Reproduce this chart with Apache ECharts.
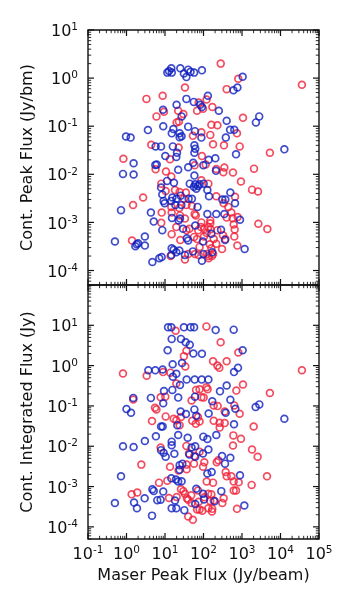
<!DOCTYPE html>
<html>
<head>
<meta charset="utf-8">
<script src="https://cdn.jsdelivr.net/npm/echarts@6/dist/echarts.min.js"></script>
<style>
html,body{margin:0;padding:0;background:#fff;}
#chart{width:354px;height:600px;}
</style>
</head>
<body>
<div id="chart"></div>
<script>
// ---- data: [maser peak flux (Jy/beam), continuum flux] ----
const topRed = [[280,2.0],[800,0.97],[33,0.64],[400,0.59],[36000,0.73],[3.3,0.37],[8.7,0.43],[120,0.36],[75,0.31],[97,0.23],[170,0.25],[22,0.21],[6.0,0.16],[30,0.18],[9.4,0.2],[68,0.21],[1060,0.15],[20,0.12],[23,0.125],[160,0.107],[230,0.105],[88,0.075],[53,0.063],[150,0.066],[740,0.071],
[4.4,0.041],[22.6,0.036],[177,0.042],[340,0.040],[870,0.038],[5300,0.028],[0.83,0.021],[5.7,0.0127],[13.5,0.0206],[10.6,0.0114],[91,0.024],[59,0.0154],[114,0.016],[215,0.0129],[348,0.0138],[327,0.011],[583,0.0109],[2050,0.0131],[14.6,0.009],[8.0,0.0064],[24,0.0043],[88,0.0075],[134,0.0064],[940,0.0071],[1820,0.0048],[2610,0.0044],[2.7,0.0033],[10.4,0.0045],[18.2,0.0047],[35,0.0042],[31,0.0031],[215,0.0035],[658,0.0034],[1.48,0.0023],[8.2,0.0016],[8.0,0.00098],[14.6,0.0021],[23.6,0.002],[36,0.0023],[50,0.0022],[59,0.0015],[400,0.00126],[528,0.0016],[442,0.0021],[334,0.0025],[14.9,0.0016],[24.5,0.0014],[33,0.0012],[63,0.0014],[88,0.001],[150,0.00096],[150,0.0011],[572,0.00122],[771,0.0013],[2660,0.00094],[4550,0.00073],[14.9,0.00057],[19.7,0.0008],[36,0.00069],[43,0.00074],[73,0.00069],[86,0.0008],[105,0.00073],[121,0.0006],[134,0.0008],[153,0.00072],[229,0.00069],[321,0.00054],[608,0.0009],[646,0.00071],[632,0.00051],[369,0.00045],[25,0.00043],[57,0.0005],[68,0.00045],[145,0.00035],[184,0.00045],[303,0.00028],[757,0.00033],[1.39,0.00042],[14,0.0002],[33,0.00017],[40,0.00022],[60,0.00022],[75,0.00021],[123,0.00022],[134,0.0002],[136,0.00018],[166,0.0002],[177,0.00022],[79,0.00031],[160,0.00029],[215,0.00036],[103,0.00051]];

const topBlue = [[11.5,1.3],[12.7,1.4],[14.6,1.6],[15,1.3],[25,1.6],[31,1.25],[36,1.05],[40,1.5],[46,1.35],[57,1.3],[91,1.45],[1040,1.07],[600,0.56],[760,0.64],[20,0.28],[36,0.37],[56,0.32],[83,0.28],[91,0.25],[130,0.43],[250,0.21],[8.9,0.22],[27,0.16],[400,0.13],[2800,0.16],[2300,0.12],[9.0,0.1],[16.5,0.087],[40,0.098],[3.6,0.083],[0.97,0.061],[1.28,0.058],[15,0.071],[24,0.071],[27,0.062],[60,0.079],[88,0.058],[24,0.059],[490,0.084],[630,0.084],[380,0.058],
[5.7,0.038],[7.9,0.038],[16,0.038],[20.5,0.028],[58,0.040],[61,0.034],[58,0.028],[700,0.026],[12600,0.033],[1.53,0.017],[5.6,0.0157],[6.1,0.0159],[10.2,0.024],[19.7,0.023],[22,0.0124],[40,0.014],[136,0.020],[203,0.0216],[54,0.0173],[99,0.0154],[211,0.0118],[0.81,0.0102],[1.53,0.0099],[58,0.0094],[11.3,0.0073],[17.1,0.0067],[44,0.0064],[61,0.0062],[72,0.0057],[56,0.0055],[65,0.005],[79,0.0062],[101,0.0064],[126,0.0047],[139,0.0035],[7.9,0.0053],[8.5,0.0038],[15.5,0.0033],[14.6,0.0028],[19.7,0.0031],[41,0.0031],[50,0.0031],[25.5,0.0036],[308,0.003],[369,0.003],[498,0.0042],[658,0.0025],[0.72,0.0018],[4.3,0.0016],[5.1,0.00104],[9.8,0.0025],[26.6,0.0023],[18.6,0.0023],[70,0.0021],[126,0.0015],[215,0.0015],[348,0.0015],[15.2,0.00124],[22.6,0.0011],[24.5,0.0012],[887,0.00114],[8.5,0.00069],[29.4,0.00074],[61,0.00086],[160,0.00058],[285,0.0007],[37,0.00047],[40,0.00042],[97,0.0004],[362,0.00043],[1170,0.00028],[0.5,0.0004],[1.84,0.00035],[1.7,0.00032],[2.0,0.00037],[3.0,0.00051],[3.0,0.00033],[14.9,0.00029],[16.8,0.00027],[19.7,0.00024],[14.6,0.00021],[23.6,0.00026],[33,0.00021],[53,0.00025],[99,0.00022],[91,0.00016],[169,0.00024],[4.7,0.00015],[7.1,0.00018],[8.2,0.00019],[9.2,0.0028]];

const bottomRed = [[119,9.4],[18.9,7.3],[279,3.8],[803,2.12],[36,2.33],[31,1.72],[177,1.28],[229,1.0],[258,0.88],[400,1.28],[0.81,0.64],[3.34,0.56],[33.7,0.95],[13.8,0.67],[8.9,0.69],[36000,0.77],[19.7,0.36],[64,0.25],[119,0.29],[128,0.26],[101,0.161],[88,0.164],[7.7,0.164],[10.2,0.17],[713,0.24],[1060,0.34],[5300,0.21],[1.5,0.144],[5.5,0.09],[6.0,0.082],[49,0.136],[79,0.26],[184,0.103],[233,0.099],[355,0.073],[632,0.103],[870,0.064],[4.6,0.042],[10.4,0.055],[16.8,0.048],[19.7,0.044],[26,0.053],[51,0.043],[72,0.053],[79,0.041],[184,0.043],[263,0.038],[2010,0.031],
[24,0.033],[63,0.036],[263,0.029],[355,0.0375],[596,0.0186],[940,0.0154],[7.7,0.0093],[36,0.0102],[42,0.0066],[58,0.0057],[79,0.0073],[105,0.004],[220,0.004],[243,0.0045],[583,0.0104],[1820,0.0083],[2550,0.0055],[2.43,0.0035],[13.5,0.0031],[22.6,0.0025],[36.5,0.0035],[56.7,0.0037],[36.5,0.0027],[7.0,0.00125],[11.5,0.0014],[26,0.00086],[30,0.00077],[97,0.0031],[121,0.00133],[177,0.00125],[377,0.0023],[400,0.0018],[528,0.0018],[608,0.00133],[700,0.0008],[608,0.0008],[819,0.00128],[1780,0.0011],[4460,0.0018],[1.36,0.00064],[1.91,0.00071],[12.7,0.00052],[20.1,0.00055],[33,0.00066],[37,0.00051],[40,0.00047],[48,0.00061],[75,0.00042],[105,0.00054],[150,0.00044],[184,0.00045],[334,0.00051],[68,0.00027],[79,0.00027],[93,0.00025],[134,0.00029],[166,0.00024],[169,0.00028],[40,0.00018],[53,0.00015],[741,0.00028],[308,0.00039],[49,0.00039],[132,0.00066],[72,0.0008],[160,0.00064]];

const bottomBlue = [[12,8.9],[14.6,8.9],[31,8.9],[46,8.9],[57,8.9],[207,7.6],[608,7.8],[14.9,4.6],[26,4.6],[34.4,3.8],[44,3.3],[11.7,2.4],[54.5,2.0],[91,1.97],[1040,2.4],[27.7,1.16],[15.8,1.08],[19.7,0.63],[3.7,0.77],[5.6,0.77],[8.7,0.80],[16,0.53],[24.5,0.33],[36.5,0.45],[59,0.45],[90,0.45],[134,0.45],[400,0.32],[787,0.88],[620,0.69],[15.5,0.25],[9.4,0.235],[268,0.23],[1.5,0.158],[4.3,0.158],[9.0,0.117],[22,0.161],[60,0.17],[169,0.131],[1.0,0.084],[1.31,0.068],[25.5,0.073],[35,0.063],[58,0.082],[65,0.057],[136,0.065],[377,0.068],[498,0.142],[672,0.085],[2260,0.094],[2820,0.109],[12600,0.048],[7.9,0.031],[20.9,0.033],[620,0.035],[8.7,0.031],
[5.8,0.0176],[22,0.019],[38.8,0.0163],[99,0.0173],[126,0.0151],[215,0.019],[3.0,0.0135],[0.81,0.01],[1.53,0.0096],[7.9,0.008],[9.2,0.0069],[14.9,0.013],[14.9,0.0106],[10.4,0.0055],[17.5,0.0065],[61,0.01],[49,0.0093],[43,0.0062],[61,0.0055],[97,0.0066],[134,0.0083],[303,0.0057],[362,0.0037],[498,0.0052],[28.2,0.0037],[24,0.0026],[24,0.0034],[0.72,0.0018],[14.6,0.0016],[19.3,0.0015],[22,0.00133],[27,0.00135],[126,0.0021],[163,0.0023],[65,0.00088],[97,0.00066],[290,0.00077],[887,0.0019],[4.7,0.00086],[5.1,0.00078],[9.0,0.00075],[1.57,0.0004],[1.87,0.00029],[0.5,0.00039],[2.96,0.00051],[6.3,0.00046],[7.7,0.00047],[18.2,0.00045],[14.9,0.00029],[19.7,0.00029],[31.8,0.00026],[61,0.00037],[103,0.00048],[195,0.00043],[4.6,0.00019],[1150,0.00034]];

// ---- axes ----
const xRange = [0.1, 1e5];
const topYRange = [5e-5, 10];
const bottomYRange = [5e-5, 100];
const xTitle = 'Maser Peak Flux (Jy/beam)';
const topYTitle = 'Cont. Peak Flux (Jy/bm)';
const bottomYTitle = 'Cont. Integrated Flux (Jy)';
const decades = [-5, -4, -3, -2, -1, 0, 1, 2, 3, 4, 5];
const minorMultipliers = [2, 3, 4, 5, 6, 7, 8, 9];

const RED = '#f0213a';
const BLUE = '#0f1fbf';
const INK = '#111';
const FONT = 'DejaVu Sans';

function tickList(range) {
  const out = [];
  decades.forEach(function (e) {
    const p = Math.pow(10, e);
    if (p >= range[0] * 0.999 && p <= range[1] * 1.001) out.push([p, 1]);
    minorMultipliers.forEach(function (m) {
      const v = m * p;
      if (v >= range[0] * 0.999 && v <= range[1] * 1.001) out.push([v, 0]);
    });
  });
  return out;
}
const xTicks = tickList(xRange);
const topYTicks = tickList(topYRange);
const bottomYTicks = tickList(bottomYRange);

function powLabel(maxShown) {
  return function (value) {
    const l = Math.log10(value);
    const e = Math.round(l);
    if (Math.abs(l - e) > 1e-6) return '';
    if (maxShown != null && value > maxShown) return '';
    return '{b|10}{s|' + e + '}';
  };
}
const richPow = {
  b: {fontSize: 16, lineHeight: 20, fontFamily: FONT, color: INK},
  s: {fontSize: 10.5, lineHeight: 10, verticalAlign: 'top', fontFamily: FONT, color: INK}
};

function tickSeries(gridIndex, ticks, isX) {
  return {
    type: 'custom',
    xAxisIndex: gridIndex,
    yAxisIndex: gridIndex,
    silent: true,
    clip: false,
    z: 5,
    data: ticks.map(function (t) { return isX ? [t[0], 1, t[1]] : [1, t[0], t[1]]; }),
    encode: {x: 0, y: 1},
    renderItem: function (params, api) {
      const cs = params.coordSys;
      const major = api.value(2) === 1;
      const len = major ? 6 : 3.2;
      const style = {stroke: INK, lineWidth: major ? 1.2 : 0.9};
      if (isX) {
        const x = api.coord([api.value(0), 1])[0];
        return {type: 'group', children: [
          {type: 'line', shape: {x1: x, y1: cs.y + cs.height, x2: x, y2: cs.y + cs.height - len}, style: style},
          {type: 'line', shape: {x1: x, y1: cs.y, x2: x, y2: cs.y + len}, style: style}
        ]};
      } else {
        const y = api.coord([1, api.value(1)])[1];
        return {type: 'group', children: [
          {type: 'line', shape: {x1: cs.x, y1: y, x2: cs.x + len, y2: y}, style: style},
          {type: 'line', shape: {x1: cs.x + cs.width, y1: y, x2: cs.x + cs.width - len, y2: y}, style: style}
        ]};
      }
    }
  };
}

function scatter(gridIndex, data, color) {
  return {
    type: 'scatter',
    xAxisIndex: gridIndex,
    yAxisIndex: gridIndex,
    data: data,
    symbol: 'circle',
    symbolSize: 6.8,
    itemStyle: {color: 'rgba(0,0,0,0)', borderColor: color, borderWidth: 1.7},
    emphasis: {disabled: true},
    z: 3
  };
}

const chart = echarts.init(document.getElementById('chart'), null, {renderer: 'canvas'});
chart.setOption({
  animation: false,
  backgroundColor: '#fff',
  textStyle: {fontFamily: FONT},
  grid: [
    {left: 88, top: 30, width: 231, height: 255, show: true, borderColor: INK, borderWidth: 1.4, backgroundColor: 'transparent'},
    {left: 88, top: 285, width: 231, height: 254, show: true, borderColor: INK, borderWidth: 1.4, backgroundColor: 'transparent'}
  ],
  xAxis: [
    {type: 'log', gridIndex: 0, min: xRange[0], max: xRange[1], logBase: 10,
     axisLine: {show: false}, axisTick: {show: false}, splitLine: {show: false}, axisLabel: {show: false}},
    {type: 'log', gridIndex: 1, min: xRange[0], max: xRange[1], logBase: 10,
     axisLine: {show: false}, axisTick: {show: false}, splitLine: {show: false},
     axisLabel: {show: true, formatter: powLabel(null), rich: richPow, margin: 6, showMinLabel: true, showMaxLabel: true, hideOverlap: false},
     name: xTitle, nameLocation: 'middle', nameGap: 29,
     nameTextStyle: {fontSize: 16, fontFamily: FONT, color: INK}}
  ],
  yAxis: [
    {type: 'log', gridIndex: 0, min: topYRange[0], max: topYRange[1], logBase: 10,
     axisLine: {show: false}, axisTick: {show: false}, splitLine: {show: false},
     axisLabel: {show: true, formatter: powLabel(null), rich: richPow, margin: 10, padding: [4, 0, 0, 0]},
     name: topYTitle, nameLocation: 'middle', nameGap: 51, nameRotate: 90,
     nameTextStyle: {fontSize: 16, fontFamily: FONT, color: INK}},
    {type: 'log', gridIndex: 1, min: bottomYRange[0], max: bottomYRange[1], logBase: 10,
     axisLine: {show: false}, axisTick: {show: false}, splitLine: {show: false},
     axisLabel: {show: true, formatter: powLabel(50), rich: richPow, margin: 10, padding: [4, 0, 0, 0]},
     name: bottomYTitle, nameLocation: 'middle', nameGap: 51, nameRotate: 90,
     nameTextStyle: {fontSize: 16, fontFamily: FONT, color: INK}}
  ],
  series: [
    scatter(0, topRed, RED),
    scatter(0, topBlue, BLUE),
    scatter(1, bottomRed, RED),
    scatter(1, bottomBlue, BLUE),
    tickSeries(0, xTicks, true),
    tickSeries(0, topYTicks, false),
    tickSeries(1, xTicks, true),
    tickSeries(1, bottomYTicks, false)
  ]
});
</script>
</body>
</html>
